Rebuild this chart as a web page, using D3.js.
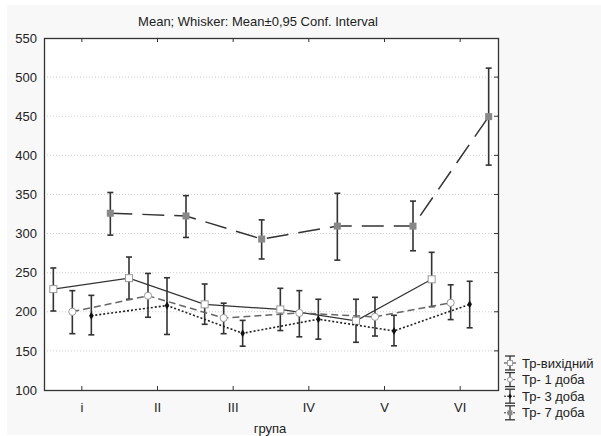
<!DOCTYPE html>
<html>
<head>
<meta charset="utf-8">
<script src="https://cdn.jsdelivr.net/npm/d3@7"></script>
<style>
    body { margin: 0; background: #fff; }
    text { font-family: "Liberation Sans", Arial, sans-serif; fill: #222; }
</style>
</head>
<body>
<svg id="chart"></svg>
<script>
// categories and series
const groups = ['i', 'II', 'III', 'IV', 'V', 'VI']
const seriesNames = ['Тр-вихідний', 'Тр- 1 доба', 'Тр- 3 доба', 'Тр- 7 доба']
const yTicks = [100, 150, 200, 250, 300, 350, 400, 450, 500, 550]

// means and 0.95 conf. interval bounds
const baseMean = [229, 243, 209.5, 203, 188.5, 241.5]
const baseLow = [201, 216, 184, 176, 161, 206.5]
const baseHigh = [256, 270, 235.5, 230, 216, 276]

const day1Mean = [200, 220.5, 192, 198.5, 193.5, 211.5]
const day1Low = [172, 193, 172, 168, 169, 190]
const day1High = [227, 249, 211, 227, 218.5, 234.5]

const day3Mean = [195, 208, 172.5, 190.5, 175.5, 209.5]
const day3Low = [170.5, 171, 156, 165, 156.5, 179.5]
const day3High = [221, 243.5, 189, 216, 195.5, 239]

const day7Mean = [326, 322.5, 293, 309.5, 309.5, 449.5]
const day7Low = [298, 295, 267.5, 266, 278, 387.5]
const day7High = [352.5, 348.5, 317.5, 351.5, 341.5, 511.5]

class ErrorBarChart {
    constructor(_config) {
        this.config = {
            parentElement: _config.parentElement,
            containerWidth: 601,
            containerHeight: 436,
            margin: {top: 38, right: 103, bottom: 46, left: 44},
        }
        this.series = [
            {name: seriesNames[0], mean: baseMean, low: baseLow, high: baseHigh,
                stroke: '#333', width: 1.2, dash: null, marker: 'openSquare'},
            {name: seriesNames[1], mean: day1Mean, low: day1Low, high: day1High,
                stroke: '#666', width: 1.5, dash: '7,4', marker: 'openCircle'},
            {name: seriesNames[2], mean: day3Mean, low: day3Low, high: day3High,
                stroke: '#222', width: 1.6, dash: '2,2', marker: 'dot'},
            {name: seriesNames[3], mean: day7Mean, low: day7Low, high: day7High,
                stroke: '#333', width: 1.5, dash: '22,10', marker: 'graySquare'},
        ]
        this.initVis()
    }

    initVis() {
        let vis = this

        vis.width = vis.config.containerWidth - vis.config.margin.left - vis.config.margin.right
        vis.height = vis.config.containerHeight - vis.config.margin.top - vis.config.margin.bottom

        vis.svg = d3.select(vis.config.parentElement)
            .attr('width', vis.config.containerWidth)
            .attr('height', vis.config.containerHeight)

        // light gray page background
        vis.svg.append('rect')
            .attr('x', 7).attr('y', 5)
            .attr('width', vis.config.containerWidth - 7)
            .attr('height', vis.config.containerHeight - 6)
            .attr('fill', '#f8f8f8')

        vis.chart = vis.svg.append('g')
            .attr('transform', `translate(${vis.config.margin.left}, ${vis.config.margin.top})`)

        vis.chart.append('rect')
            .attr('width', vis.width)
            .attr('height', vis.height)
            .attr('fill', '#fff')

        vis.xScale = d3.scaleBand().domain(groups).range([0, vis.width])
        vis.offset = d3.scaleBand().domain(seriesNames).range([-38, 38])
        vis.yScale = d3.scaleLinear().domain([100, 550]).range([vis.height, 0])

        vis.xPos = (i, s) => vis.xScale(groups[i]) + vis.xScale.bandwidth() / 2
            + vis.offset(s) + vis.offset.bandwidth() / 2

        vis.svg.append('text')
            .text('Mean; Whisker: Mean±0,95 Conf. Interval')
            .attr('x', 258).attr('y', 26)
            .style('text-anchor', 'middle')
            .style('font-size', '13px')

        vis.renderAxes()
        vis.renderVis()
        vis.renderLegend()
    }

    renderAxes() {
        let vis = this

        // dotted grid
        vis.chart.append('g')
            .selectAll('line')
            .data(yTicks.slice(1, -1))
            .join('line')
            .attr('x1', 0).attr('x2', vis.width)
            .attr('y1', d => vis.yScale(d)).attr('y2', d => vis.yScale(d))
            .attr('stroke', '#ccc')
            .attr('stroke-dasharray', '1,2')

        vis.yAxisG = vis.chart.append('g')
            .call(d3.axisLeft(vis.yScale).tickValues(yTicks).tickSize(0).tickPadding(7))
        vis.yAxisG.select('.domain').remove()
        vis.yAxisG.selectAll('text').style('font-size', '13px').attr('fill', '#222')

        vis.xAxisG = vis.chart.append('g')
            .attr('transform', `translate(0, ${vis.height})`)
            .call(d3.axisBottom(vis.xScale).tickSize(0).tickPadding(13))
        vis.xAxisG.select('.domain').remove()
        vis.xAxisG.selectAll('text').style('font-size', '13px').attr('fill', '#222')

        // inner ticks on bottom, top, right
        const cx = g => vis.xScale(g) + vis.xScale.bandwidth() / 2
        const ticks = vis.chart.append('g').attr('stroke', '#333')
        groups.forEach(g => {
            ticks.append('line').attr('x1', cx(g)).attr('x2', cx(g)).attr('y1', vis.height).attr('y2', vis.height - 4)
            ticks.append('line').attr('x1', cx(g)).attr('x2', cx(g)).attr('y1', 0).attr('y2', 4)
        })
        yTicks.slice(1, -1).forEach(t => {
            ticks.append('line').attr('x1', vis.width).attr('x2', vis.width - 4)
                .attr('y1', vis.yScale(t)).attr('y2', vis.yScale(t))
        })

        vis.chart.append('rect')
            .attr('x', 0.5).attr('y', 0.5)
            .attr('width', vis.width).attr('height', vis.height)
            .attr('fill', 'none')
            .attr('stroke', '#333')
            .attr('stroke-width', 1.3)

        vis.svg.append('text')
            .text('група')
            .attr('x', 270).attr('y', 433)
            .style('text-anchor', 'middle')
            .style('font-size', '13px')
    }

    drawMarker(sel, type, x, y, k = 1) {
        if (type === 'openSquare') {
            sel.append('rect').attr('x', x - 3.5 * k).attr('y', y - 3.5 * k).attr('width', 7 * k).attr('height', 7 * k)
                .attr('fill', '#fff').attr('stroke', '#999')
        } else if (type === 'openCircle') {
            sel.append('circle').attr('cx', x).attr('cy', y).attr('r', 3.6 * k)
                .attr('fill', '#fff').attr('stroke', '#999')
        } else if (type === 'dot') {
            sel.append('path').attr('d', d3.symbol(d3.symbolDiamond, 18 * k * k)())
                .attr('transform', `translate(${x},${y})`).attr('fill', '#111')
        } else {
            sel.append('rect').attr('x', x - 3.5 * k).attr('y', y - 3.5 * k).attr('width', 7 * k).attr('height', 7 * k)
                .attr('fill', '#888')
        }
    }

    renderVis() {
        let vis = this

        vis.series.forEach(s => {
            const g = vis.chart.append('g')
            const line = d3.line()
                .x((d, i) => vis.xPos(i, s.name))
                .y(d => vis.yScale(d))

            g.append('path')
                .datum(s.mean)
                .attr('d', line)
                .attr('fill', 'none')
                .attr('stroke', s.stroke)
                .attr('stroke-width', s.width)
                .attr('stroke-dasharray', s.dash)

            s.mean.forEach((m, i) => {
                const x = vis.xPos(i, s.name)
                const w = g.append('g').attr('stroke', '#333').attr('stroke-width', 1.6)
                w.append('line').attr('x1', x).attr('x2', x)
                    .attr('y1', vis.yScale(s.low[i])).attr('y2', vis.yScale(s.high[i]))
                w.append('line').attr('x1', x - 3).attr('x2', x + 3)
                    .attr('y1', vis.yScale(s.low[i])).attr('y2', vis.yScale(s.low[i]))
                w.append('line').attr('x1', x - 3).attr('x2', x + 3)
                    .attr('y1', vis.yScale(s.high[i])).attr('y2', vis.yScale(s.high[i]))
            })
            s.mean.forEach((m, i) => vis.drawMarker(g, s.marker, vis.xPos(i, s.name), vis.yScale(m)))
        })
    }

    renderLegend() {
        let vis = this
        const legend = vis.svg.append('g').attr('transform', 'translate(510, 363)')

        vis.series.forEach((s, i) => {
            const row = legend.append('g').attr('transform', `translate(0, ${i * 16.6})`)
            row.append('line').attr('x1', -6).attr('x2', 6).attr('y1', 0).attr('y2', 0)
                .attr('stroke', s.stroke).attr('stroke-width', 1).attr('stroke-dasharray', s.dash ? '2,1' : null)
            const w = row.append('g').attr('stroke', '#333').attr('stroke-width', 1.3)
            w.append('line').attr('x1', 0).attr('x2', 0).attr('y1', -7).attr('y2', 7)
            w.append('line').attr('x1', -5).attr('x2', 5).attr('y1', -7).attr('y2', -7)
            w.append('line').attr('x1', -5).attr('x2', 5).attr('y1', 7).attr('y2', 7)
            vis.drawMarker(row, s.marker, 0, 0, 0.7)
            row.append('text')
                .text(s.name)
                .attr('x', 12).attr('y', 4.5)
                .style('font-size', '13px')
        })
    }
}

new ErrorBarChart({parentElement: '#chart'})
</script>
</body>
</html>
